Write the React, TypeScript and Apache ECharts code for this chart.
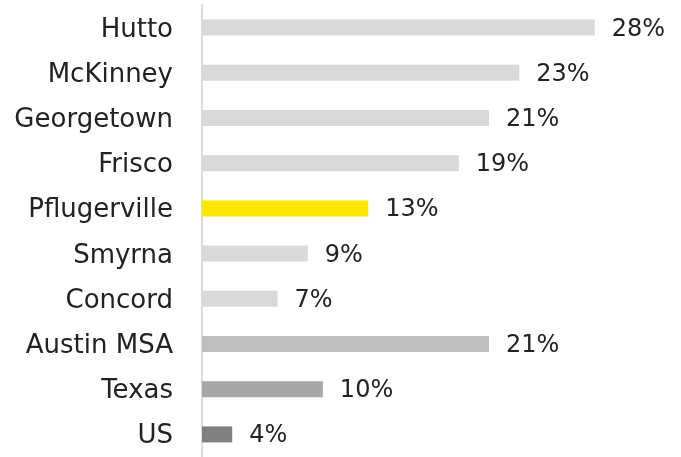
import React, { useEffect, useRef } from "react";
import * as echarts from "echarts";

const categories = ["Hutto", "McKinney", "Georgetown", "Frisco", "Pflugerville", "Smyrna", "Concord", "Austin MSA", "Texas", "US"];
const values = [28, 23, 21, 19, 13, 9, 7, 21, 10, 4];
const colors = ["#d9d9d9", "#d9d9d9", "#d9d9d9", "#d9d9d9", "#ffe600", "#d9d9d9", "#d9d9d9", "#bfbfbf", "#a6a6a6", "#808080"];

export default function App() {
  const ref = useRef<HTMLDivElement>(null);
  useEffect(() => {
    const chart = echarts.init(ref.current!, undefined, { renderer: "svg" });
    chart.setOption({
      animation: false,
      grid: { left: 202, right: 56, top: 5, bottom: -4, containLabel: false },
      xAxis: {
        type: "value",
        min: 2,
        max: 30,
        show: false,
      },
      yAxis: {
        type: "category",
        inverse: true,
        data: categories,
        axisLine: { show: true, lineStyle: { color: "#dcdce4", width: 2 } },
        axisTick: { show: false },
        axisLabel: {
          margin: 29,
          fontSize: 26,
          fontFamily: "DejaVu Sans",
          color: "#222222",
        },
      },
      series: [
        {
          type: "bar",
          barWidth: 16,
          data: values.map((v, i) => ({ value: v, itemStyle: { color: colors[i] } })),
          label: {
            show: true,
            position: "right",
            distance: 17,
            fontSize: 24,
            fontFamily: "DejaVu Sans",
            color: "#222222",
            formatter: (p: any) => p.value + "%",
          },
        },
      ],
    });
    return () => chart.dispose();
  }, []);
  return <div ref={ref} style={{ position: "fixed", left: 0, top: 0, width: 681, height: 457 }} />;
}
